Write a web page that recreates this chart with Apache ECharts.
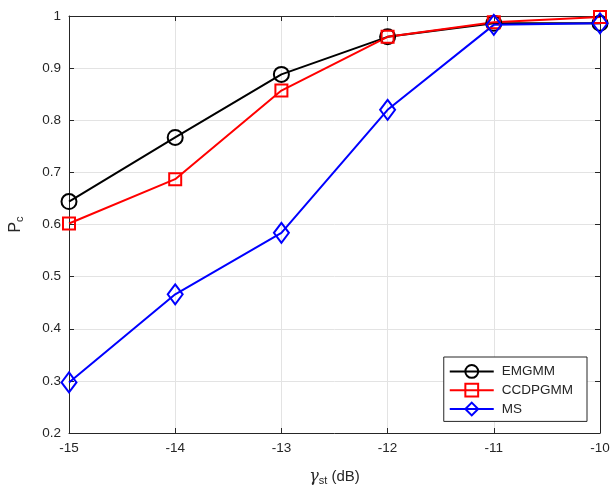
<!DOCTYPE html>
<html><head><meta charset="utf-8">
<script src="https://cdn.jsdelivr.net/npm/echarts@6/dist/echarts.min.js"></script>
<style>html,body{margin:0;padding:0;background:#fff}#c{width:614px;height:491px}</style>
</head><body><div id="c"></div>
<script>
const xValues = [-15, -14, -13, -12, -11, -10];
const emgmm = [0.644, 0.767, 0.888, 0.960, 0.986, 0.986];
const ccdpgmm = [0.602, 0.687, 0.857, 0.960, 0.988, 0.998];
const ms = [0.297, 0.466, 0.584, 0.820, 0.983, 0.986];
const seriesNames = ['EMGMM', 'CCDPGMM', 'MS'];

const font = 'Liberation Sans, Arial, Helvetica, sans-serif';
const axisColor = '#262626';
const pair = arr => xValues.map((x, i) => [x, arr[i]]);

const chart = echarts.init(document.getElementById('c'), null, {renderer: 'canvas'});
const mkSeries = (name, data, color, symbol, size) => ({
  name, type: 'line', data: pair(data), symbol, symbolSize: size,
  showAllSymbol: true,
  lineStyle: {color, width: 2}, itemStyle: {color: 'rgba(255,255,255,0)', borderColor: color, borderWidth: 2},
  emphasis: {disabled: true}, animation: false, z: 3
});
const baseX = {
  type: 'value', min: -15, max: -10, interval: 1,
  axisLine: {show: true, onZero: false, lineStyle: {color: axisColor, width: 1}},
  axisTick: {show: true, inside: true, length: 5, lineStyle: {color: axisColor}},
};
const baseY = {
  type: 'value', min: 0.2, max: 1, interval: 0.1,
  axisLine: {show: true, onZero: false, lineStyle: {color: axisColor, width: 1}},
  axisTick: {show: true, inside: true, length: 5, lineStyle: {color: axisColor}},
};
chart.setOption({
  animation: false,
  backgroundColor: '#fff',
  grid: {left: 68, right: 14, top: 16, bottom: 56, containLabel: false},
  xAxis: [
    Object.assign({}, baseX, {
      position: 'bottom',
      axisLabel: {color: axisColor, fontSize: 13.5, fontFamily: font, margin: 8},
      splitLine: {show: true, lineStyle: {color: '#e3e3e3', width: 1}},
      name: '{g|γ}{s|st} (dB)', nameLocation: 'middle', nameGap: 34,
      nameTextStyle: {color: axisColor, fontSize: 15, fontFamily: font,
        rich: {g: {fontStyle: 'italic', fontSize: 16, fontFamily: 'DejaVu Serif, serif', color: axisColor},
               s: {fontSize: 11, verticalAlign: 'bottom', padding: [8, 0, 0, 0], color: axisColor, fontFamily: font}}}
    }),
    Object.assign({}, baseX, {position: 'top', axisLabel: {show: false}, splitLine: {show: false}})
  ],
  yAxis: [
    Object.assign({}, baseY, {
      position: 'left',
      axisLabel: {color: axisColor, fontSize: 13.5, fontFamily: font, margin: 8,
        formatter: v => String(Math.round(v * 10) / 10)},
      splitLine: {show: true, lineStyle: {color: '#e3e3e3', width: 1}},
      name: '{p|P}{s|c}', nameLocation: 'middle', nameGap: 44, nameRotate: 90,
      nameTextStyle: {color: axisColor, fontSize: 16, fontFamily: font,
        rich: {p: {fontSize: 16, color: axisColor, fontFamily: font},
               s: {fontSize: 11, verticalAlign: 'bottom', padding: [7, 0, 0, 0], color: axisColor, fontFamily: font}}}
    }),
    Object.assign({}, baseY, {position: 'right', axisLabel: {show: false}, splitLine: {show: false}})
  ],
  legend: {
    data: seriesNames,
    orient: 'vertical', right: 27, top: 357,
    backgroundColor: '#fff', borderColor: '#262626', borderWidth: 1, borderRadius: 0,
    padding: [7, 14, 5, 5], itemGap: 4, itemWidth: 44, itemHeight: 16,
    textStyle: {color: axisColor, fontSize: 13.5, fontFamily: font, padding: [0, 0, 0, 3]},
    selectedMode: false
  },
  series: [
    mkSeries(seriesNames[0], emgmm, '#000000', 'circle', 15),
    mkSeries(seriesNames[1], ccdpgmm, '#ff0000', 'rect', 12),
    mkSeries(seriesNames[2], ms, '#0000ff', 'diamond', [15, 20])
  ]
});
</script></body></html>
